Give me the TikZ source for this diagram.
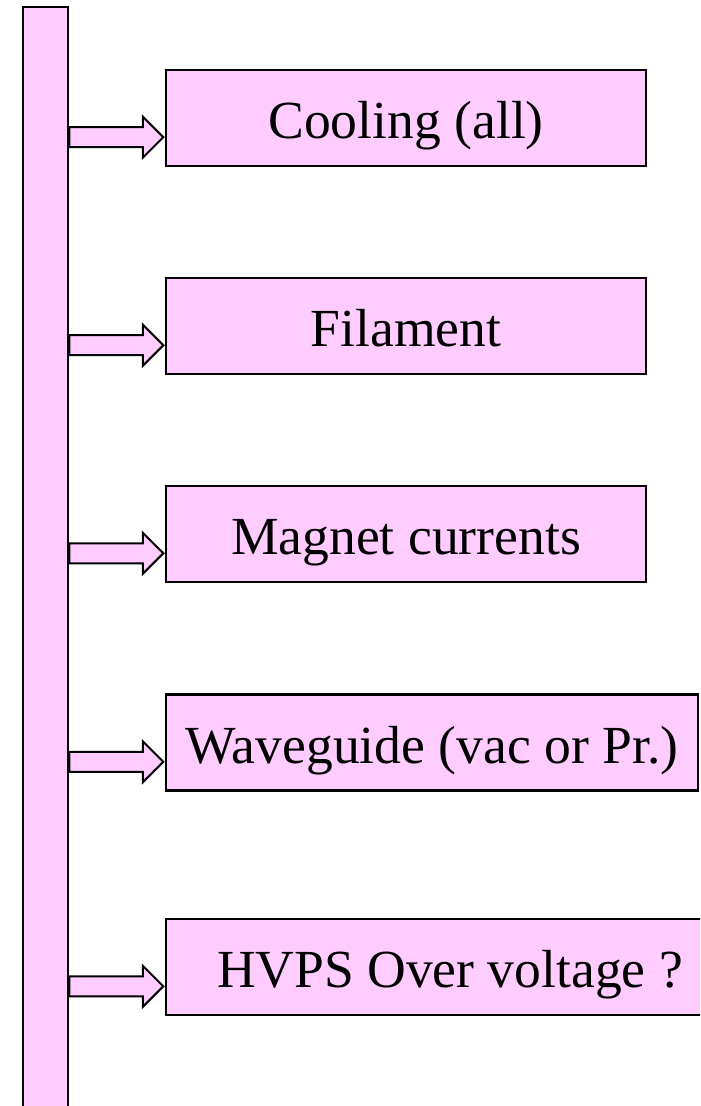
\documentclass[tikz,border=0pt]{standalone}
\usepackage{fontspec}
\setmainfont{Liberation Serif}
\usetikzlibrary{shapes,arrows,positioning,calc}
\definecolor{pinkfill}{RGB}{255,204,255}

\tikzset{
  box/.style={draw, line width=1.25pt, fill=pinkfill, inner sep=0pt,
    minimum width=240pt, minimum height=48pt,
    text height=20.8pt, text depth=0pt,
    font=\fontsize{26.8}{32}\selectfont},
  feed/.style={single arrow, draw, line width=1pt, fill=pinkfill,
    inner xsep=0pt, inner ysep=4.5pt,
    minimum height=47pt,
    single arrow head extend=5.25pt, anchor=tip}
}

\begin{document}
\begin{tikzpicture}[x=0.5pt, y=-0.5pt]
                    % Page frame
                    \clip (0,0) rectangle (700,1106);
                    
                    % Vertical bar
                    \node[draw, line width=1pt, fill=pinkfill, inner sep=0pt,
                      minimum width=22.5pt, minimum height=570pt,
                      anchor=north west] (bus) at (22,6) {};
                    
                    % Boxes
                    \node[box] (cool) at (406,118) {Cooling (all)};
                    \node[box] (fil) at (406,326) {Filament};
                    \node[box] (mag) at (406,534) {Magnet currents};
                    \node[box, minimum width=266pt] (wg) at (432,742.5) {Waveguide (vac or Pr.)};
                    \node[box, minimum width=284pt] (hv) at (450,967) {HVPS Over voltage ?};
                    
                    % Arrows
                    \node[feed] (a1) at ($(cool.south west)+(0,-30)$) {};
                    \node[feed] (a2) at ($(fil.south west)+(0,-30)$) {};
                    \node[feed] (a3) at ($(mag.south west)+(0,-30)$) {};
                    \node[feed] (a4) at ($(wg.south west)+(0,-30)$) {};
                    \node[feed] (a5) at ($(hv.south west)+(0,-30)$) {};
                \end{tikzpicture}
\end{document}
